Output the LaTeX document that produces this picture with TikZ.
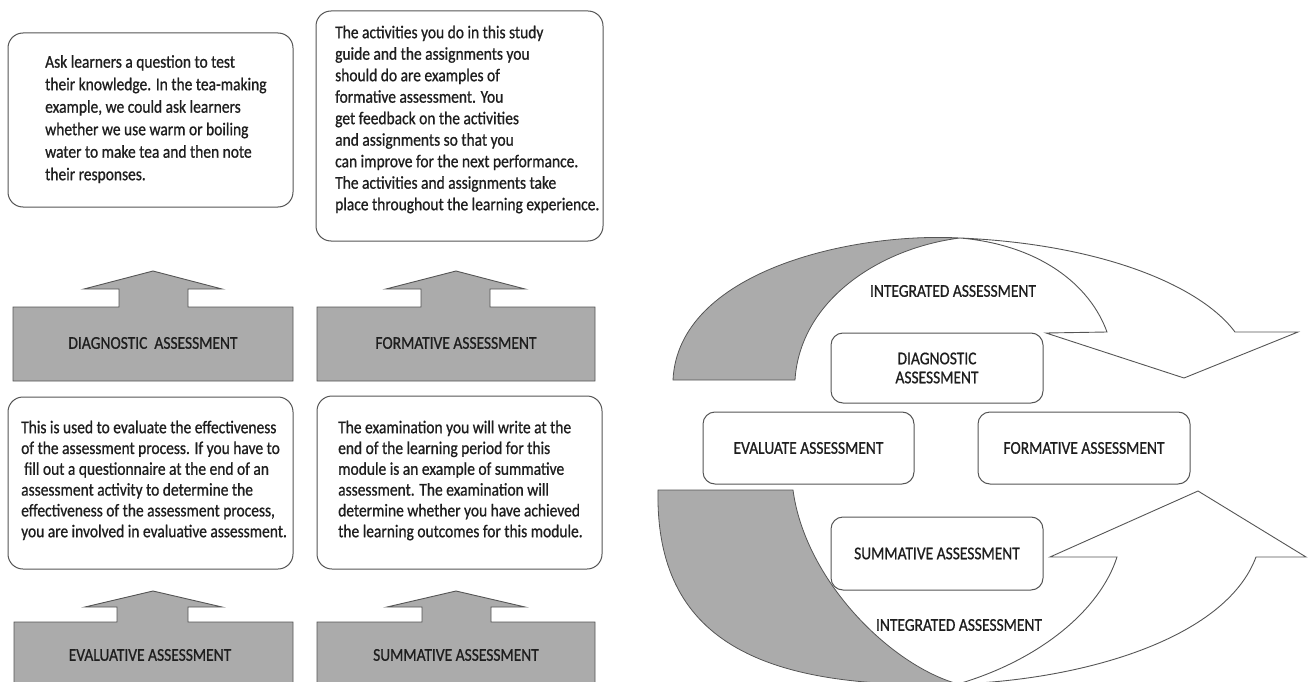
\documentclass[tikz,border=0pt]{standalone}
\usepackage{fontspec}
\setmainfont[FakeStretch=0.86, FakeBold=0.8]{Carlito}
\definecolor{txt}{HTML}{1E1E1E}
\definecolor{edge}{HTML}{555555}
\definecolor{shade}{HTML}{ABABAB}
\tikzset{
  desc/.style={draw=edge, line width=1pt, rounded corners=15pt, fill=white, inner sep=0pt},
  body/.style={anchor=north west, inner sep=0pt, align=left, text=txt, execute at begin node=\strut},
  glabel/.style={font=\fontsize{18}{20}\selectfont, text=txt, inner sep=0pt},
  block/.style={fill=shade, draw=edge, line width=0.9pt, line join=miter},
  rbox/.style={draw=edge, line width=1pt, rounded corners=12pt, inner sep=0pt, align=center, text=txt, font=\fontsize{18}{19}\selectfont},
  arcline/.style={draw=edge, line width=0.9pt},
}
\begin{document}
\begin{tikzpicture}[x=1pt, y=-1pt]
\useasboundingbox (0,0) rectangle (1309,682);
\clip (0,0) rectangle (1309,682);

% ---------- left: description boxes ----------
\node[desc, minimum width=285pt, minimum height=174pt] (b1) at (150.5,120) {};
\node[body, font=\fontsize{18}{22.5}\selectfont] (t1) at (45,55)
 {Ask learners a question to test\\their knowledge. In the tea-making\\example, we could ask learners\\whether we use warm or boiling\\water to make tea and then note\\their responses.};

\node[desc, minimum width=287pt, minimum height=230pt] (b2) at (459.5,126) {};
\node[body, font=\fontsize{18}{21.5}\selectfont] (t2) at (335,25.5)
 {The activities you do in this study\\guide and the assignments you\\should do are examples of\\formative assessment. You\\get feedback on the activities\\and assignments so that you\\can improve for the next performance.\\The activities and assignments take\\place throughout the learning experience.};

\node[desc, minimum width=285pt, minimum height=172pt] (b3) at (150.5,483) {};
\node[body, font=\fontsize{18}{20.8}\selectfont] (t3) at (21,420.5)
 {This is used to evaluate the effectiveness\\of the assessment process. If you have to\\\hspace*{3pt}fill out a questionnaire at the end of an\\assessment activity to determine the\\effectiveness of the assessment process,\\you are involved in evaluative assessment.};

\node[desc, minimum width=285pt, minimum height=173pt] (b4) at (459.5,482.5) {};
\node[body, font=\fontsize{18}{20.8}\selectfont] (t4) at (338,420.5)
 {The examination you will write at the\\end of the learning period for this\\module is an example of summative\\assessment. The examination will\\determine whether you have achieved\\the learning outcomes for this module.};

% ---------- left: grey arrow blocks ----------
\draw[block] (13,381) -- (13,307) -- (119,307) -- (119,289) -- (84,289) -- (153,271)
  -- (222,289) -- (188,289) -- (188,307) -- (293,307) -- (293,381) -- cycle;
\node[glabel] (l1) at (153,343) {DIAGNOSTIC\ \ ASSESSMENT};

\draw[block] (317,381) -- (317,307) -- (421,307) -- (421,289) -- (386,289) -- (456,271)
  -- (525,289) -- (490,289) -- (490,307) -- (595,307) -- (595,381) -- cycle;
\node[glabel] (l2) at (456,343) {FORMATIVE ASSESSMENT};

\draw[block] (14,700) -- (14,622) -- (117,622) -- (117,607) -- (85,607) -- (153,591)
  -- (222,607) -- (188,607) -- (188,622) -- (293,622) -- (293,700) -- cycle;
\node[glabel] (l3) at (150,655) {EVALUATIVE ASSESSMENT};

\draw[block] (317,700) -- (317,622) -- (422,622) -- (422,607) -- (387,607) -- (456,591)
  -- (525,607) -- (491,607) -- (491,622) -- (595,622) -- (595,700) -- cycle;
\node[glabel] (l4) at (456,655) {SUMMATIVE ASSESSMENT};

% ---------- right: cycle diagram ----------
\coordinate (A) at (673,380);
\coordinate (B) at (795,380);
\coordinate (J) at (960,238);
\coordinate (R1) at (1235,332);
\coordinate (L1) at (1107,332);
% top grey crescent
\draw[block, line width=0.8pt] (A) .. controls (678,272) and (850,232) .. (J)
  .. controls (880,248) and (800,300) .. (B) -- cycle;
% top white ribbon + arrow head
\draw[arcline] (J) .. controls (1100,244) and (1200,285) .. (R1)
  -- (1298,332) -- (1184,378) -- (1046,333) -- (L1)
  .. controls (1090,285) and (1040,245) .. (J);

\coordinate (C) at (658,490);
\coordinate (D) at (793,490);
\coordinate (P) at (958,684);
\coordinate (R2) at (1256,557);
\coordinate (L2) at (1117,557);
% bottom grey crescent
\draw[block, line width=0.8pt] (C) .. controls (655,640) and (760,690) .. (P)
  .. controls (890,665) and (805,580) .. (D) -- cycle;
% bottom white ribbon + arrow head
\draw[arcline] (P) .. controls (1080,680) and (1225,640) .. (R2)
  -- (1306,557) -- (1198,491) -- (1050,557) -- (L2)
  .. controls (1100,610) and (1040,660) .. (P);

\node[glabel] (i1) at (953,291) {INTEGRATED ASSESSMENT};
\node[glabel] (i2) at (959,625) {INTEGRATED ASSESSMENT};

\node[rbox, minimum width=212pt, minimum height=70pt] (rd) at (937,368) {DIAGNOSTIC\\ASSESSMENT};
\node[rbox, minimum width=211pt, minimum height=72pt] (re) at (808.5,448) {EVALUATE ASSESSMENT};
\node[rbox, minimum width=212pt, minimum height=72pt] (rf) at (1084,448) {FORMATIVE ASSESSMENT};
\node[rbox, minimum width=212pt, minimum height=73pt] (rs) at (937,553.5) {SUMMATIVE ASSESSMENT};
\end{tikzpicture}
\end{document}
